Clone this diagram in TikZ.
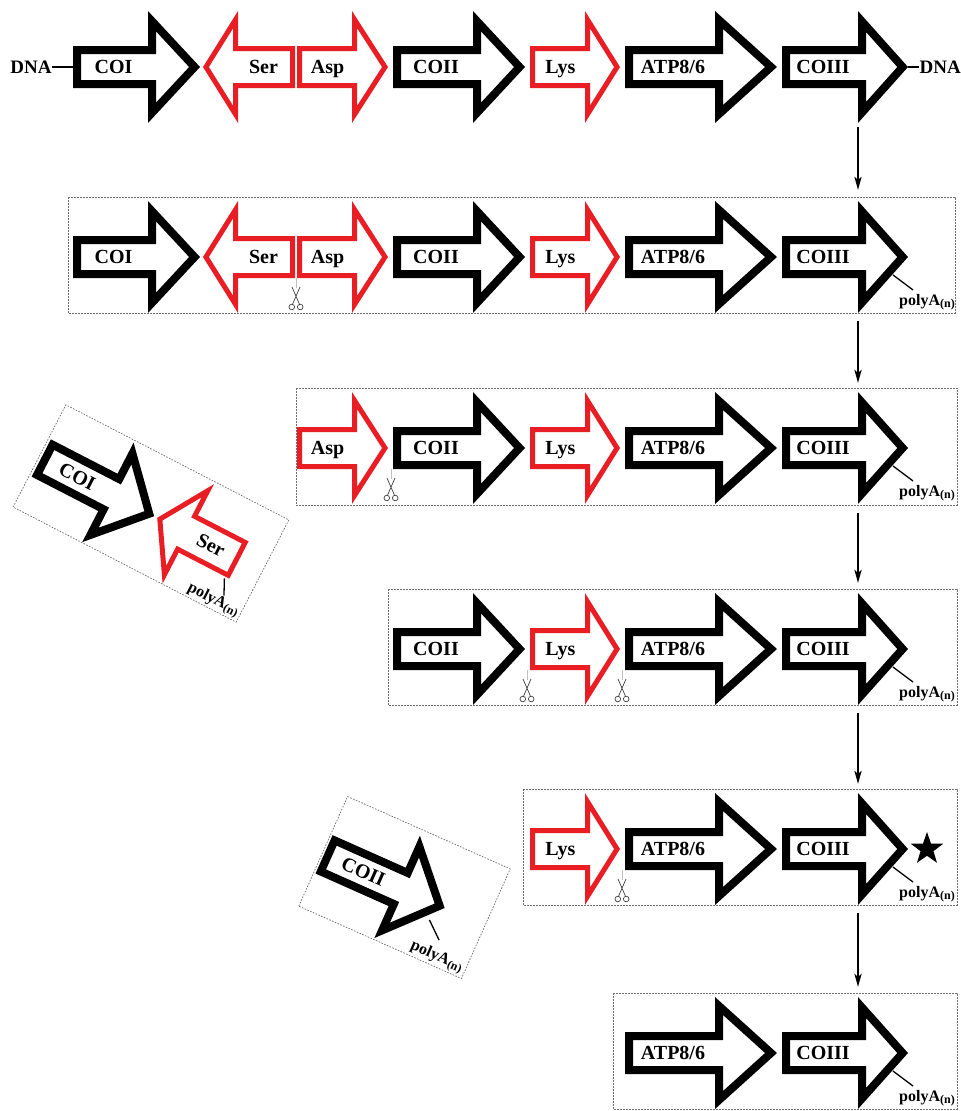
\documentclass[tikz,border=0pt]{standalone}
\usepackage{fontspec}
\setmainfont{Liberation Serif}
\usetikzlibrary{arrows.meta,shapes.geometric}
\definecolor{gred}{RGB}{232,30,36}
\definecolor{boxgray}{RGB}{110,110,110}
\newcommand\polyAtext{polyA\raisebox{-2pt}{\fontsize{12}{12}\selectfont (n)}}
\tikzset{
  lbl/.style={font=\fontsize{20}{22}\selectfont\bfseries, inner sep=0pt, text height=13pt, text depth=0pt},
  dnalbl/.style={font=\fontsize{19}{21}\selectfont\bfseries, inner sep=0pt, text height=13pt, text depth=0pt},
  plbl/.style={font=\fontsize{16}{17}\selectfont\bfseries, inner sep=0pt},
  dbox/.style={draw=boxgray, line width=0.7pt, dash pattern=on 1.6pt off 1.4pt},
  lead/.style={line width=1.3pt},
  varr/.style={line width=2.4pt, -{Stealth[length=13pt,width=7pt,inset=3pt]}},
  polya/.pic={
    \draw[lead] (-15,-18) -- (5,-33);
    \node[plbl] (-lbl) at (19,-45) {\polyAtext};
  },
  scis/.pic={
    \draw[gray!50, line width=0.4pt] (0,-21) -- (0,-31);
    \draw[darkgray, line width=0.7pt] (-4,-30) -- (3.4,-47) (4,-30) -- (-3.4,-47);
    \draw[darkgray, line width=0.7pt] (-4.2,-50) circle (2.8) (4.2,-50) circle (2.8);
  }
}
% #1 name, #2 position, #3 dir, #4 len, #5 head length, #6 colour, #7 doubled stroke, #8 label, #9 label options
\newcommand\garr[9]{%
  \begin{scope}[shift={#2}, xscale=#3]
    \coordinate (#1s) at (0,0);
    \coordinate (#1t) at (#4,0);
    \begin{scope}
      \clip (0,21) -- ({#4-#5},21) -- ({#4-#5},56) -- (#4,0) -- ({#4-#5},-56) -- ({#4-#5},-21) -- (0,-21) -- cycle;
      \draw[#6, line width=#7] (0,21) -- ({#4-#5},21) -- ({#4-#5},56) -- (#4,0) -- ({#4-#5},-56) -- ({#4-#5},-21) -- (0,-21) -- cycle;
    \end{scope}
    \node[lbl, #9] (#1) at ({(#4-#5)/2+3},0) {#8};
  \end{scope}}
\newcommand\gCOI[2]{\garr{#1coi}{(73,-#2)}{1}{127}{52}{black}{16pt}{COI}{}}
\newcommand\gSer[2]{\garr{#1ser}{(295,-#2)}{-1}{92}{35}{gred}{10pt}{Ser}{}}
\newcommand\gAsp[2]{\garr{#1asp}{(297,-#2)}{1}{91}{36}{gred}{10pt}{Asp}{}}
\newcommand\gCOII[2]{\garr{#1coii}{(393,-#2)}{1}{132}{52}{black}{16pt}{COII}{}}
\newcommand\gLys[2]{\garr{#1lys}{(530,-#2)}{1}{90}{35}{gred}{10pt}{Lys}{}}
\newcommand\gATP[2]{\garr{#1atp}{(625,-#2)}{1}{152}{62}{black}{16pt}{ATP8/6}{}}
\newcommand\gCOIII[2]{\garr{#1coiii}{(782,-#2)}{1}{126}{50}{black}{16pt}{COIII}{}}

\begin{document}
\begin{tikzpicture}[x=1pt,y=1pt]
\useasboundingbox[fill=white] (0,0) rectangle (961,-1111);

% ---------- row 1 : DNA
\gCOI{r1}{67}\gSer{r1}{67}\gAsp{r1}{67}\gCOII{r1}{67}\gLys{r1}{67}\gATP{r1}{67}\gCOIII{r1}{67}
\node[dnalbl] (dnaL) at (31,-67) {DNA};
\node[dnalbl, anchor=east] (dnaR) at (961,-67) {DNA};
\draw[line width=2.2pt] (dnaL.east) -- (r1cois);
\draw[line width=2.2pt] (r1coiiit) -- (dnaR.west);

% ---------- row 2
\draw[dbox] (68,-197) rectangle (955,-313);
\gCOI{r2}{257}\gSer{r2}{257}\gAsp{r2}{257}\gCOII{r2}{257}\gLys{r2}{257}\gATP{r2}{257}\gCOIII{r2}{257}
\pic (s2a) at (296,-257) {scis};
\pic (p2) at (r2coiiit) {polya};

% ---------- row 3
\draw[dbox] (296,-388) rectangle (957,-505);
\gAsp{r3}{448}\gCOII{r3}{448}\gLys{r3}{448}\gATP{r3}{448}\gCOIII{r3}{448}
\pic (s3a) at (391,-448) {scis};
\pic (p3) at (r3coiiit) {polya};

% ---------- row 4
\draw[dbox] (388,-589) rectangle (957,-705);
\gCOII{r4}{649}\gLys{r4}{649}\gATP{r4}{649}\gCOIII{r4}{649}
\pic (s4a) at (527,-649) {scis};
\pic (s4b) at (622,-649) {scis};
\pic (p4) at (r4coiiit) {polya};

% ---------- row 5
\draw[dbox] (523,-789) rectangle (957,-905);
\gLys{r5}{849}\gATP{r5}{849}\gCOIII{r5}{849}
\pic (s5a) at (622,-849) {scis};
\pic (p5) at (r5coiiit) {polya};
\node[star, star points=5, star point ratio=2.5, fill=black, inner sep=0pt, minimum size=34pt] (star) at (927,-849) {};

% ---------- row 6
\draw[dbox] (613,-993) rectangle (957,-1109);
\gATP{r6}{1053}\gCOIII{r6}{1053}
\pic (p6) at (r6coiiit) {polya};

% ---------- vertical arrows
\coordinate (v1a) at (858,-127); \coordinate (v1b) at (858,-190);
\coordinate (v2a) at (858,-321); \coordinate (v2b) at (858,-383);
\coordinate (v3a) at (858,-513); \coordinate (v3b) at (858,-583);
\coordinate (v4a) at (858,-713); \coordinate (v4b) at (858,-784);
\coordinate (v5a) at (858,-913); \coordinate (v5b) at (858,-987);
\draw[varr] (v1a) -- (v1b);
\draw[varr] (v2a) -- (v2b);
\draw[varr] (v3a) -- (v3b);
\draw[varr] (v4a) -- (v4b);
\draw[varr] (v5a) -- (v5b);

% ---------- rotated box A (COI + Ser)
\begin{scope}[shift={(151,-513.5)}, rotate=-27.3]
  \draw[dbox] (-125.5,-57.5) rectangle (125.5,57.5);
  \garr{acoi}{(-123,-1)}{1}{127}{52}{black}{16pt}{COI}{rotate=-27.3}
  \garr{aser}{(99.5,-1)}{-1}{92}{35}{gred}{10pt}{Ser}{rotate=-27.3}
  \draw[lead] (95,-24) -- (102.5,-39.5);
  \node[plbl, rotate=-27.3] (apoly) at (95,-48.5) {\polyAtext};
\end{scope}

% ---------- rotated box B (COII)
\begin{scope}[shift={(404.5,-887.5)}, rotate=-24]
  \draw[dbox] (-89,-60) rectangle (89,60);
  \garr{bcoii}{(-87,-2.4)}{1}{132}{52}{black}{16pt}{COII}{rotate=-24}
  \draw[lead] (36,-19.5) -- (53,-34);
  \node[plbl, rotate=-24] (bpoly) at (57.5,-50.5) {\polyAtext};
\end{scope}
\end{tikzpicture}
\end{document}
